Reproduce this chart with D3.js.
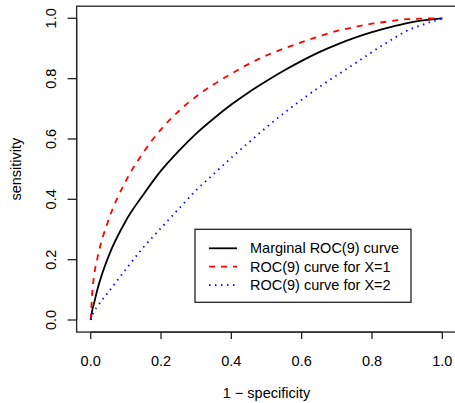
<!DOCTYPE html>
<html><head><meta charset="utf-8">
<script src="https://cdn.jsdelivr.net/npm/d3@7"></script>
<style>body{margin:0;background:#fff}svg{display:block;font-family:"Liberation Sans",Arial,Helvetica,sans-serif}</style>
</head><body><svg id="c" width="455" height="403"></svg>
<script>
const fpr = [0,0.002,0.005,0.01,0.02,0.05,0.1,0.15,0.2,0.25,0.3,0.35,0.4,0.45,0.5,0.55,0.6,0.65,0.7,0.75,0.8,0.85,0.9,0.95,1.0];
const marginal = [0,0.016,0.035,0.058,0.105,0.209,0.329,0.416,0.495,0.56,0.618,0.668,0.714,0.755,0.792,0.827,0.859,0.888,0.913,0.935,0.954,0.970,0.984,0.994,1.0];
const rocX1 = [0,0.045,0.10,0.15,0.21,0.329,0.461,0.556,0.632,0.692,0.741,0.781,0.816,0.849,0.877,0.900,0.921,0.940,0.958,0.971,0.982,0.990,0.997,0.999,1.0];
const rocX2 = [0,0.008,0.018,0.03,0.047,0.092,0.168,0.241,0.305,0.368,0.43,0.484,0.538,0.589,0.639,0.686,0.730,0.772,0.811,0.849,0.888,0.925,0.959,0.981,1.0];
const xTicks = [0,0.2,0.4,0.6,0.8,1.0];
const yTicks = [0,0.2,0.4,0.6,0.8,1.0];
const seriesNames = ["Marginal ROC(9) curve","ROC(9) curve for X=1","ROC(9) curve for X=2"];
const seriesColors = ["#000000","#ff0000","#0000ff"];
const seriesDash = [null,"6,6","1.5,4.5"];
const seriesData = [marginal, rocX1, rocX2];

const svg = d3.select("#c");
const x = d3.scaleLinear().domain([0,1]).range([90.7,442.3]);
const y = d3.scaleLinear().domain([0,1]).range([320,18.3]);
const bx0 = x(-0.04), bx1 = x(1.04), by0 = y(1.04), by1 = y(-0.04);
const fs = 14.5;

svg.append("rect").attr("x",bx0).attr("y",by0).attr("width",bx1-bx0).attr("height",by1-by0)
  .attr("fill","none").attr("stroke","#222").attr("stroke-width",1.3);

const gx = svg.append("g").attr("transform",`translate(0,${by1})`);
gx.append("line").attr("x1",x(0)).attr("x2",x(1)).attr("stroke","#222").attr("stroke-width",1.3);
gx.selectAll("line.t").data(xTicks).join("line").attr("class","t")
  .attr("x1",d=>x(d)).attr("x2",d=>x(d)).attr("y1",0).attr("y2",7).attr("stroke","#222").attr("stroke-width",1.3);
gx.selectAll("text").data(xTicks).join("text")
  .attr("x",d=>x(d)).attr("y",34).attr("text-anchor","middle").attr("font-size",fs)
  .text(d=>d3.format(".1f")(d));

const gy = svg.append("g").attr("transform",`translate(${bx0},0)`);
gy.append("line").attr("y1",y(0)).attr("y2",y(1)).attr("stroke","#222").attr("stroke-width",1.3);
gy.selectAll("line.t").data(yTicks).join("line").attr("class","t")
  .attr("y1",d=>y(d)).attr("y2",d=>y(d)).attr("x1",0).attr("x2",-9).attr("stroke","#222").attr("stroke-width",1.3);
gy.selectAll("text").data(yTicks).join("text")
  .attr("transform",d=>`translate(-21,${y(d)}) rotate(-90)`).attr("text-anchor","middle").attr("font-size",fs)
  .text(d=>d3.format(".1f")(d));

svg.append("text").attr("x",(x(0)+x(1))/2).attr("y",397.5).attr("text-anchor","middle").attr("font-size",fs).text("1 \u2212 specificity");
svg.append("text").attr("transform",`translate(21,${(y(0)+y(1))/2}) rotate(-90)`).attr("text-anchor","middle").attr("font-size",fs).text("sensitivity");

const line = d3.line().x((d,i)=>x(fpr[i])).y(d=>y(d)).curve(d3.curveMonotoneX);
seriesData.forEach((s,k)=>{
  svg.append("path").attr("d",line(s)).attr("fill","none").attr("stroke",seriesColors[k])
    .attr("stroke-width",1.8).attr("stroke-dasharray",seriesDash[k]);
});

const lg = svg.append("g");
lg.append("rect").attr("x",195).attr("y",229.3).attr("width",216).attr("height",73)
  .attr("fill","#fff").attr("stroke","#222").attr("stroke-width",1.3);
seriesNames.forEach((n,k)=>{
  const yy = 248.3 + k*18.4;
  lg.append("line").attr("x1",209).attr("x2",237).attr("y1",yy).attr("y2",yy)
    .attr("stroke",seriesColors[k]).attr("stroke-width",1.8).attr("stroke-dasharray",seriesDash[k]);
  lg.append("text").attr("x",250).attr("y",yy).attr("dy","0.35em").attr("font-size",fs).text(n);
});
</script></body></html>
